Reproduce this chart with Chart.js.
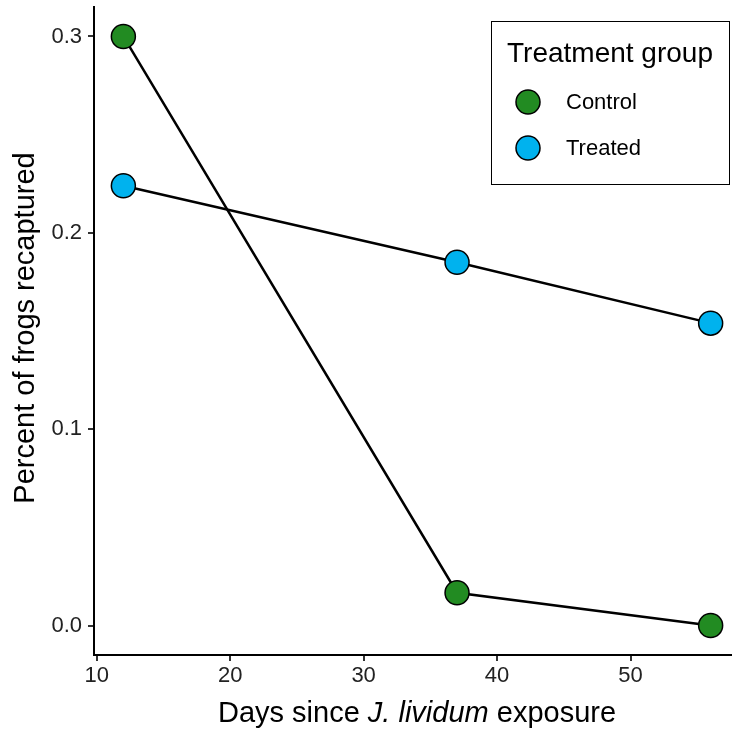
<!DOCTYPE html>
<html>
<head>
<meta charset="utf-8">
<script src="https://cdn.jsdelivr.net/npm/chart.js@4/dist/chart.umd.min.js"></script>
<style>
html,body{margin:0;padding:0;background:#fff;}
#wrap{width:732px;height:729px;position:relative;}
</style>
</head>
<body>
<div id="wrap"><canvas id="c" width="732" height="729"></canvas></div>
<script>
const days = [12, 37, 56];
const controlValues = [0.3, 0.0167, 0.0];
const treatedValues = [0.224, 0.185, 0.154];
const seriesNames = ["Control", "Treated"];
const seriesColors = ["#228B22", "#00B2EE"];
const xTicks = [10, 20, 30, 40, 50];
const yTicks = [0.0, 0.1, 0.2, 0.3];
const legendTitle = "Treatment group";
const xTitleParts = [["Days since ", false], ["J. lividum", true], [" exposure", false]];
const yTitle = "Percent of frogs recaptured";

const FONT = "'Liberation Sans', Arial, Helvetica, sans-serif";

function toPts(vals){ return days.map((d,i)=>({x:d, y:vals[i]})); }

const titlesAndLegend = {
  id: 'titlesAndLegend',
  afterDraw(chart){
    const ctx = chart.ctx;
    ctx.save();
    const size = 29;
    let total = 0;
    const widths = xTitleParts.map(([t,it])=>{
      ctx.font = (it?'italic ':'') + size + 'px ' + FONT;
      const w = ctx.measureText(t).width; total += w; return w;
    });
    let x = 417 - total/2;
    ctx.fillStyle = '#000';
    ctx.textBaseline = 'alphabetic';
    ctx.textAlign = 'left';
    xTitleParts.forEach(([t,it],i)=>{
      ctx.font = (it?'italic ':'') + size + 'px ' + FONT;
      ctx.fillText(t, x, 722);
      x += widths[i];
    });
    ctx.save();
    ctx.translate(34, 328);
    ctx.rotate(-Math.PI/2);
    ctx.font = size + 'px ' + FONT;
    ctx.textAlign = 'center';
    ctx.fillText(yTitle, 0, 0);
    ctx.restore();
    // Legend
    ctx.strokeStyle = '#000';
    ctx.lineWidth = 1;
    ctx.fillStyle = '#fff';
    ctx.fillRect(491.5, 21.5, 238, 163);
    ctx.strokeRect(491.5, 21.5, 238, 163);
    ctx.fillStyle = '#000';
    ctx.font = '28px ' + FONT;
    ctx.textAlign = 'left';
    ctx.fillText(legendTitle, 507, 62);
    chart.data.datasets.forEach((ds, i)=>{
      const cy = 102 + i*46;
      ctx.beginPath();
      ctx.arc(528, cy, 12, 0, Math.PI*2);
      ctx.fillStyle = ds.backgroundColor;
      ctx.fill();
      ctx.lineWidth = 1.5;
      ctx.strokeStyle = '#000';
      ctx.stroke();
      ctx.fillStyle = '#000';
      ctx.font = '22px ' + FONT;
      ctx.textBaseline = 'middle';
      ctx.fillText(ds.label, 566, cy + 1);
      ctx.textBaseline = 'alphabetic';
    });
    ctx.restore();
  }
};

const commonScale = {
  grid: {drawOnChartArea:false, drawTicks:true, tickLength:6, color:'#333', lineWidth:2},
  border: {display:true, color:'#000', width:2},
};

new Chart(document.getElementById('c'), {
  type: 'line',
  data: {
    datasets: [
      {label: seriesNames[0], data: toPts(controlValues), borderColor:'#000', borderWidth:2.5,
       backgroundColor: seriesColors[0], pointBackgroundColor: seriesColors[0], pointBorderColor:'#000',
       pointBorderWidth:1.5, pointRadius:12, pointHoverRadius:12, fill:false, tension:0},
      {label: seriesNames[1], data: toPts(treatedValues), borderColor:'#000', borderWidth:2.5,
       backgroundColor: seriesColors[1], pointBackgroundColor: seriesColors[1], pointBorderColor:'#000',
       pointBorderWidth:1.5, pointRadius:12, pointHoverRadius:12, fill:false, tension:0}
    ]
  },
  options: {
    responsive:false, animation:false, clip:false,
    layout:{autoPadding:false, padding:{left:0, right:0, top:7, bottom:0}},
    plugins:{legend:{display:false}, tooltip:{enabled:false}},
    scales:{
      x:{type:'linear', min:9.8, max:57.6, ...commonScale,
         afterBuildTicks: s => { s.ticks = xTicks.map(v=>({value:v})); },
         afterFit: s => { s.height = 74; s.paddingLeft = 0; s.paddingRight = 0; },
         ticks:{color:'#222', font:{family:FONT, size:22}, padding:2, maxRotation:0,
                callback: v => String(v)}},
      y:{type:'linear', min:-0.015, max:0.315, ...commonScale,
         afterBuildTicks: s => { s.ticks = yTicks.map(v=>({value:v})); },
         afterFit: s => { s.width = 94; s.paddingTop = 0; s.paddingBottom = 0; },
         ticks:{color:'#222', font:{family:FONT, size:22}, padding:6,
                callback: v => Number(v).toFixed(1)}}
    }
  },
  plugins:[titlesAndLegend]
});
</script>
</body>
</html>
